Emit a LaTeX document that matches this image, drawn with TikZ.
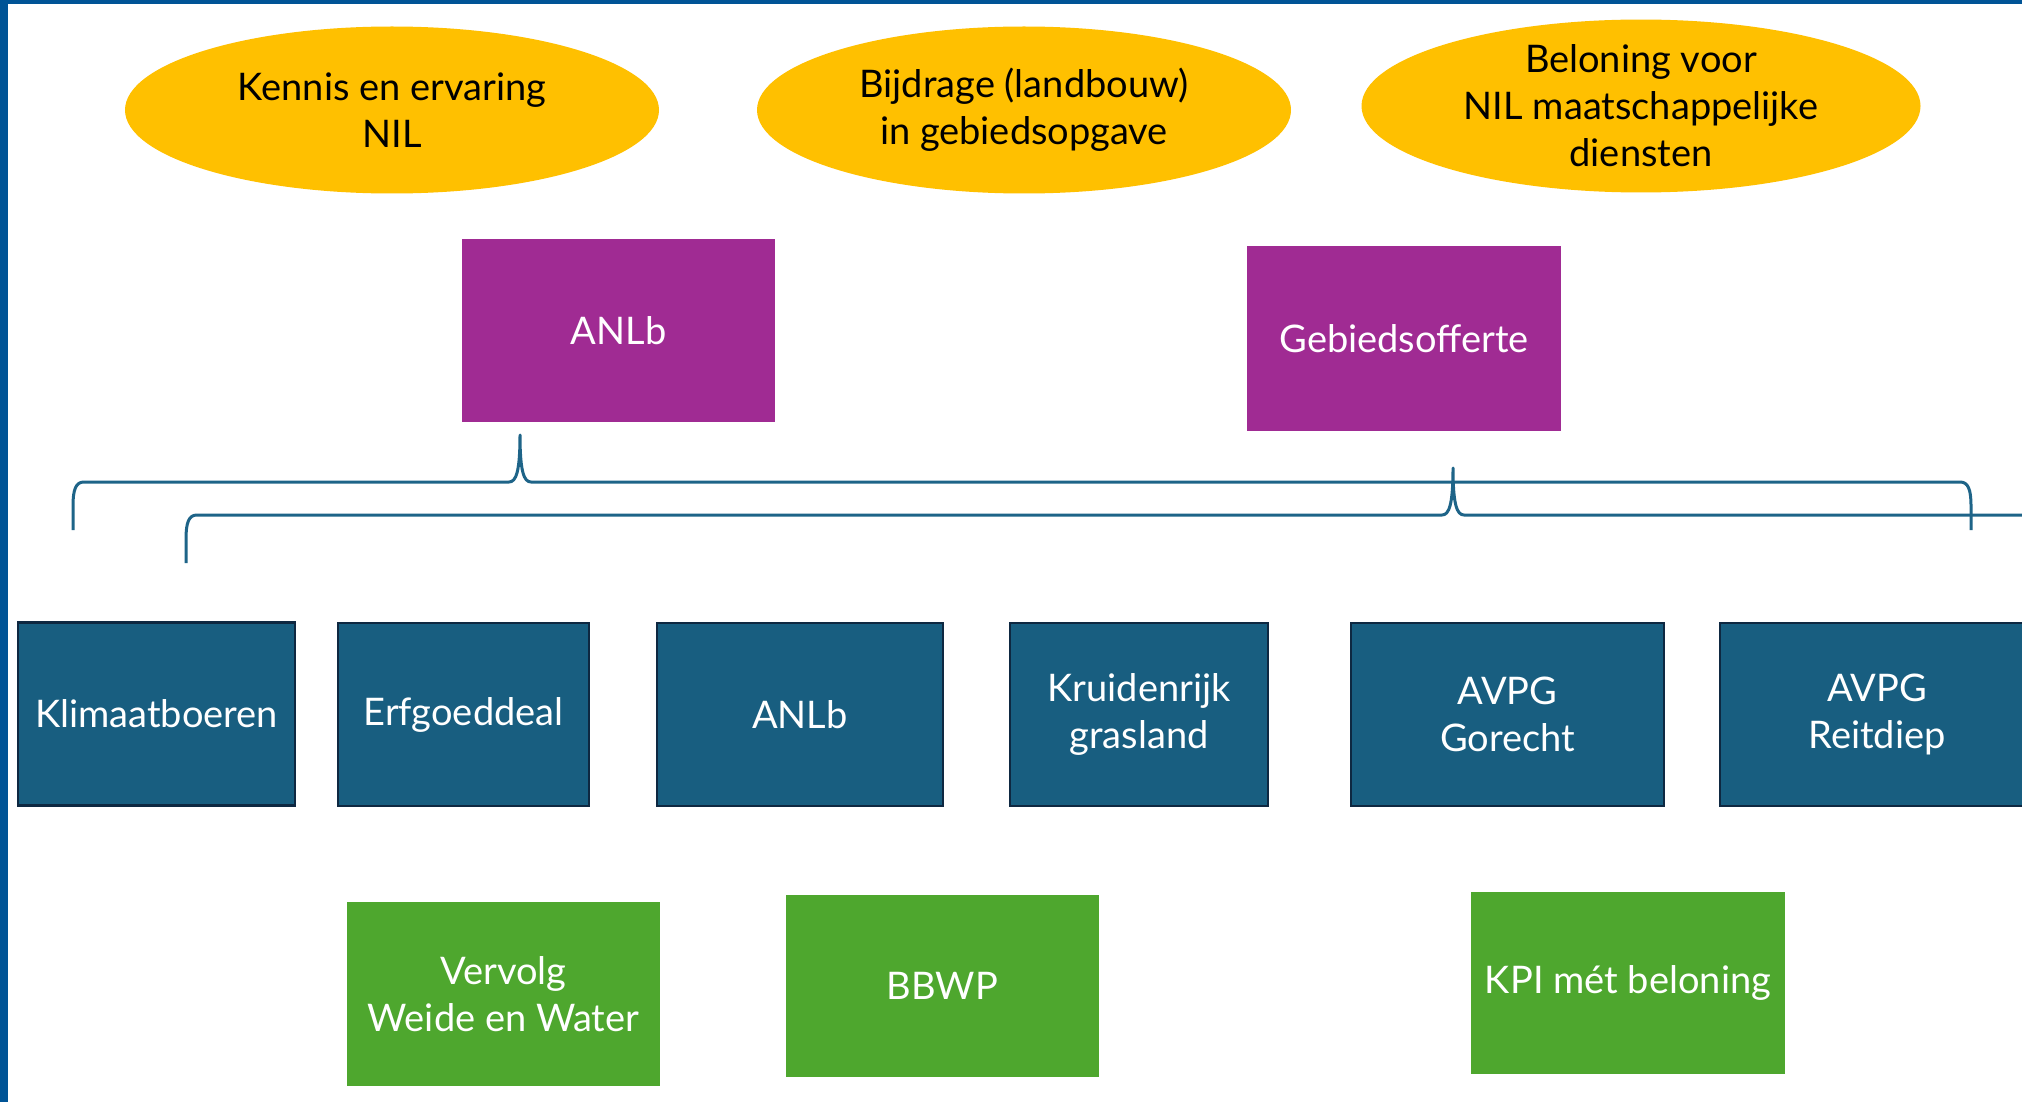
\documentclass[tikz,border=0pt]{standalone}
\usepackage{fontspec}
\setmainfont{Lato}
\usetikzlibrary{shapes.geometric}
\definecolor{frameblue}{HTML}{005496}
\definecolor{ellyellow}{HTML}{FFC000}
\definecolor{purplebox}{HTML}{A02B93}
\definecolor{bluebox}{HTML}{185E80}
\definecolor{blueedge}{HTML}{0E2841}
\definecolor{greenbox}{HTML}{4EA72E}
\definecolor{bracecol}{HTML}{1E6488}
\tikzset{
  txt/.style={font=\fontsize{38}{47}\selectfont, align=center, inner sep=0pt},
  goal/.style={txt, ellipse, fill=ellyellow, text=black},
  purplenode/.style={txt, rectangle, fill=purplebox, text=white, minimum height=183pt},
  bluenode/.style={txt, rectangle, fill=bluebox, draw=blueedge, line width=2.5pt, text=white, minimum height=183pt},
  greennode/.style={txt, rectangle, fill=greenbox, text=white, minimum height=183pt},
  bracestyle/.style={draw=bracecol, line width=3pt, line join=round}
}
\begin{document}
\begin{tikzpicture}[x=1pt,y=-1pt]
\useasboundingbox (0,0) rectangle (2022,1102);
\clip (0,0) rectangle (2022,1102);
\fill[white] (0,0) rectangle (2022,1102);
% frame
\fill[frameblue] (0,0) rectangle (8,1102);
\fill[frameblue] (0,0) rectangle (2022,4);
% goals
\node[goal, minimum width=534pt, minimum height=167pt] (g1) at (392,110) {Kennis en ervaring\\NIL};
\node[goal, minimum width=534pt, minimum height=167pt] (g2) at (1024,110) {Bijdrage (landbouw)\\in gebiedsopgave};
\node[goal, minimum width=559pt, minimum height=168pt] (g3) at (1641,106) {Beloning voor\\NIL maatschappelijke\\diensten};
% purple
\node[purplenode, minimum width=313pt] (p1) at (618.5,330.5) {ANLb};
\node[purplenode, minimum width=314pt, minimum height=185pt] (p2) at (1404,338.5) {Gebiedsofferte};
% braces
\coordinate (b1l) at (73,530);
\coordinate (b1t) at (520,435);
\coordinate (b1r) at (1971,530);
\coordinate (b2l) at (186,563);
\coordinate (b2t) at (1453,468);
\coordinate (b2r) at (2060,515);
\draw[bracestyle] (b1l) -- (73,506) .. controls (73,489) and (76,482) .. (84,482)
  -- (509,482) .. controls (516,482) and (520,472) .. (b1t)
  .. controls (520,472) and (524,482) .. (531,482)
  -- (1960,482) .. controls (1968,482) and (1971,489) .. (1971,506) -- (b1r);
\draw[bracestyle] (b2l) -- (186,539) .. controls (186,522) and (189,515) .. (197,515)
  -- (1442,515) .. controls (1449,515) and (1453,505) .. (b2t)
  .. controls (1453,505) and (1457,515) .. (1464,515) -- (b2r);
% blue row
\node[bluenode, minimum width=277pt] (k1) at (156.5,714) {Klimaatboeren};
\node[bluenode, minimum width=251pt] (k2) at (463.5,714.5) {Erfgoeddeal};
\node[bluenode, minimum width=286pt] (k3) at (800,714.5) {ANLb};
\node[bluenode, minimum width=258pt] (k4) at (1139,714.5) {Kruidenrijk\\grasland};
\node[bluenode, minimum width=313pt] (k5) at (1507.5,714.5) {AVPG\\Gorecht};
\node[bluenode, minimum width=314pt] (k6) at (1877,714.5) {AVPG\\Reitdiep};
% green row
\node[greennode, minimum width=313pt, minimum height=184pt] (v1) at (503.5,994) {Vervolg\\Weide en Water};
\node[greennode, minimum width=313pt, minimum height=182pt] (v2) at (942.5,986) {BBWP};
\node[greennode, minimum width=314pt, minimum height=182pt] (v3) at (1628,983) {KPI mét beloning};
\end{tikzpicture}
\end{document}
